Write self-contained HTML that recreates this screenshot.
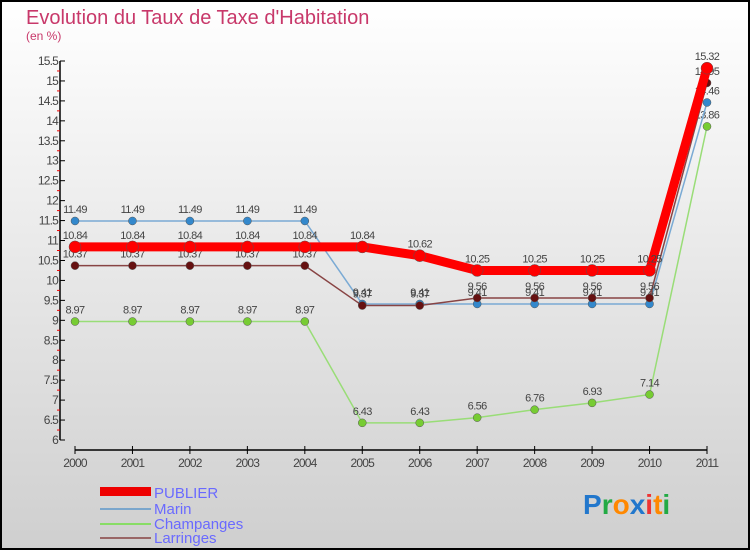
<!DOCTYPE html>
<html><head><meta charset="utf-8"><style>
body{margin:0}
#c{width:750px;height:550px;position:relative;font-family:"Liberation Sans",sans-serif}
</style></head><body>
<div id="c">
<svg id="s" width="750" height="550" xmlns="http://www.w3.org/2000/svg">
<defs><linearGradient id="bg" x1="0" y1="0" x2="0" y2="1"><stop offset="0" stop-color="#ffffff"/><stop offset="1" stop-color="#cfcfcf"/></linearGradient></defs>
<rect x="1" y="1" width="748" height="548" fill="url(#bg)" stroke="#000" stroke-width="2"/>
<text x="26" y="24" font-size="20" fill="#c8386a">Evolution du Taux de Taxe d'Habitation</text>
<text x="26" y="40" font-size="12" fill="#c8386a">(en %)</text>
<g id="axes"></g><g id="series"></g>
<g>
<rect x="100" y="487" width="51" height="9" fill="#e00"/>
<text x="154" y="498" font-size="15" fill="#6a6aff">PUBLIER</text>
<line x1="100" y1="509" x2="151" y2="509" stroke="#7aa6cc" stroke-width="2"/>
<text x="154" y="514" font-size="15" fill="#6a6aff">Marin</text>
<line x1="100" y1="524" x2="151" y2="524" stroke="#88dd66" stroke-width="2"/>
<text x="154" y="529" font-size="15" fill="#6a6aff">Champanges</text>
<line x1="100" y1="538" x2="151" y2="538" stroke="#996666" stroke-width="2"/>
<text x="154" y="543" font-size="15" fill="#6a6aff">Larringes</text>
</g>
<text x="583" y="514" font-size="28" font-weight="bold"><tspan fill="#2277cc">P</tspan><tspan fill="#22aa44">r</tspan><tspan fill="#ff8800">o</tspan><tspan fill="#2277cc">x</tspan><tspan fill="#ee3333">i</tspan><tspan fill="#ff8800">t</tspan><tspan fill="#22aa44">i</tspan></text>
</svg></div>
<script>
const years=["2000","2001","2002","2003","2004","2005","2006","2007","2008","2009","2010","2011"];
const yTicks=[6,6.5,7,7.5,8,8.5,9,9.5,10,10.5,11,11.5,12,12.5,13,13.5,14,14.5,15,15.5];
const publier=[10.84,10.84,10.84,10.84,10.84,10.84,10.62,10.25,10.25,10.25,10.25,15.32];
const marin=[11.49,11.49,11.49,11.49,11.49,9.41,9.41,9.41,9.41,9.41,9.41,14.46];
const champanges=[8.97,8.97,8.97,8.97,8.97,6.43,6.43,6.56,6.76,6.93,7.14,13.86];
const larringes=[10.37,10.37,10.37,10.37,10.37,9.37,9.37,9.56,9.56,9.56,9.56,14.95];
const NS="http://www.w3.org/2000/svg";
function X(i){return 75+i*(707-75)/(years.length-1);}
function Y(v){return 440-(v-6)*(379/9.5);}
function mk(t,a,p){const e=document.createElementNS(NS,t);for(const k in a)e.setAttribute(k,a[k]);p.appendChild(e);return e;}
const ax=document.getElementById('axes');
let l=mk('line',{x1:60,y1:Y(15.5),x2:60,y2:440,stroke:'#000','stroke-width':1.5},ax);


yTicks.forEach(v=>{
 const y=Y(v);
 let t=mk('line',{x1:60,y1:y,x2:65,y2:y,stroke:'#000'},ax);
 
 
 let m=mk('line',{x1:57,y1:Y(v+0.25),x2:60,y2:Y(v+0.25),stroke:'#e00'},ax);
 if(v===15.5)m.remove();
 let tx=mk('text',{x:58,y:y+4,'font-size':12,fill:'#444','text-anchor':'end','letter-spacing':'-0.8'},ax);
 tx.textContent=String(v);
 
 
});
l=mk('line',{x1:75,y1:450,x2:707,y2:450,stroke:'#000','stroke-width':1.5},ax);


years.forEach((yr,i)=>{
 let t=mk('line',{x1:X(i),y1:446,x2:X(i),y2:454,stroke:'#000'},ax);
 
 
 let tx=mk('text',{x:X(i),y:467,'font-size':12,fill:'#444','text-anchor':'middle','letter-spacing':'-0.8'},ax);
 tx.textContent=yr;
 
 
});
const sg=document.getElementById('series');
function draw(name,vals,col,dot,w,r){
 const g=mk('g',{},sg);
 
 
 const pl=mk('polyline',{points:vals.map((v,i)=>X(i)+','+Y(v)).join(' '),fill:'none',stroke:col,'stroke-width':w},g);
 
 
 vals.forEach((v,i)=>{
  const c=mk('circle',{cx:X(i),cy:Y(v),r:r,fill:dot,stroke:'#555','stroke-width':0.5},g);
  
  
  const t=mk('text',{x:X(i),y:Y(v)-8,'font-size':11,fill:'#444','text-anchor':'middle','letter-spacing':'-0.6'},g);
  t.textContent=String(v);
  
  
 });
}
draw('champanges',champanges,'#99dd77','#77cc33',1.5,4);
draw('marin',marin,'#7aaad4','#3388cc',1.5,4);
draw('larringes',larringes,'#884444','#661111',1.5,4);
draw('publier',publier,'#ff0000','#ff0000',9,6);
</script>
</body></html>
